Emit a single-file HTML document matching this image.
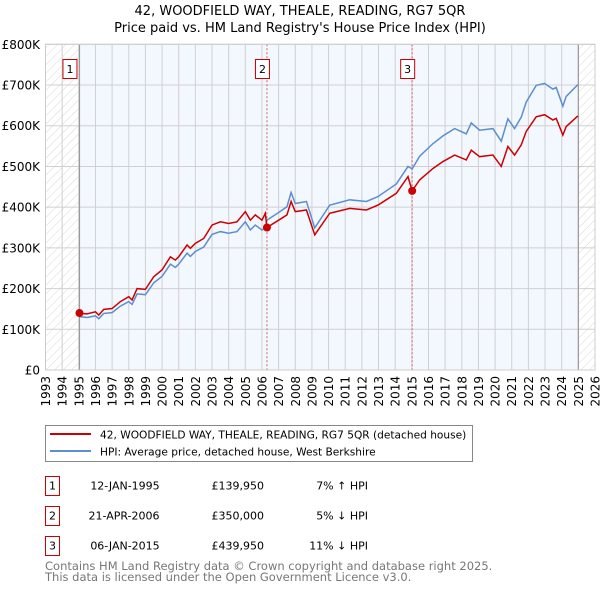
<!DOCTYPE html>
<html><head><meta charset="utf-8"><style>
body{margin:0;background:#fff;}
svg{display:block;font-family:"DejaVu Sans","Liberation Sans",sans-serif;}
</style></head><body>
<svg id="chart" width="600" height="590" viewBox="0 0 600 590" xmlns="http://www.w3.org/2000/svg">
<defs>
<pattern id="hatch" patternUnits="userSpaceOnUse" width="6" height="6" patternTransform="rotate(45)">
<rect width="6" height="6" fill="#fff"/><line x1="0" y1="0" x2="0" y2="6" stroke="#d8d8d8" stroke-width="1"/>
</pattern>
</defs>
<text x="300" y="15" text-anchor="middle" font-size="13" fill="#000">42, WOODFIELD WAY, THEALE, READING, RG7 5QR</text>
<text x="300" y="32" text-anchor="middle" font-size="13" fill="#000">Price paid vs. HM Land Registry's House Price Index (HPI)</text>
<g id="plot"></g>
<g>
<rect x="45.5" y="425.5" width="427" height="36" fill="#fff" stroke="#888"/>
<line x1="50" y1="434" x2="91" y2="434" stroke="#cc0000" stroke-width="2"/>
<text x="100" y="438.5" font-size="10.6">42, WOODFIELD WAY, THEALE, READING, RG7 5QR (detached house)</text>
<line x1="50" y1="451" x2="91" y2="451" stroke="#5b8fd0" stroke-width="2"/>
<text x="100" y="455.5" font-size="10.6">HPI: Average price, detached house, West Berkshire</text>
</g>
<g font-size="11">
<g>
<rect x="45.5" y="476.5" width="14" height="19" fill="#fff" stroke="#cc0000"/><text x="52.5" y="489.5" text-anchor="middle">1</text>
<text x="125" y="489.5" text-anchor="middle">12-JAN-1995</text><text x="264" y="489.5" text-anchor="end">£139,950</text><text x="368" y="489.5" text-anchor="end">7% ↑ HPI</text></g>
<g>
<rect x="45.5" y="506.5" width="14" height="19" fill="#fff" stroke="#cc0000"/><text x="52.5" y="519.5" text-anchor="middle">2</text>
<text x="124" y="519.5" text-anchor="middle">21-APR-2006</text><text x="264" y="519.5" text-anchor="end">£350,000</text><text x="368" y="519.5" text-anchor="end">5% ↓ HPI</text></g>
<g>
<rect x="45.5" y="536.5" width="14" height="19" fill="#fff" stroke="#cc0000"/><text x="52.5" y="549.5" text-anchor="middle">3</text>
<text x="125" y="549.5" text-anchor="middle">06-JAN-2015</text><text x="264" y="549.5" text-anchor="end">£439,950</text><text x="368" y="549.5" text-anchor="end">11% ↓ HPI</text></g>
</g>
<text x="45" y="570" font-size="11.5" fill="#777">Contains HM Land Registry data © Crown copyright and database right 2025.</text>
<text x="45" y="581" font-size="11.5" fill="#777">This data is licensed under the Open Government Licence v3.0.</text>
</svg>
<script>
const years=[1995.04,1995.5,1996.0,1996.2,1996.5,1997.0,1997.5,1998.0,1998.2,1998.5,1999.0,1999.5,2000.0,2000.5,2000.8,2001.0,2001.5,2001.7,2002.0,2002.5,2003.0,2003.5,2004.0,2004.5,2005.0,2005.3,2005.6,2006.0,2006.2,2006.3,2007.0,2007.5,2007.75,2008.0,2008.67,2009.17,2010.07,2011.27,2012.27,2012.97,2014.07,2014.77,2015.02,2015.47,2016.27,2016.87,2017.57,2018.27,2018.57,2019.07,2019.87,2020.37,2020.77,2021.17,2021.57,2021.87,2022.47,2022.97,2023.47,2023.67,2024.07,2024.27,2024.97];
const priceSeries=[139,138,143,135,149,151,168,180,172,200,198,229,246,278,270,278,307,299,311,323,356,364,360,364,389,368,381,368,385,350,368,381,414,389,393,332,385,397,393,405,434,475,440,467,495,512,528,516,540,524,528,500,549,528,553,586,622,627,614,618,577,598,624];
const hpiSeries=[131,129,133,126,139,141,157,168,161,187,185,214,230,260,252,260,287,279,291,302,333,340,336,340,364,344,356,344,348,368,387,401,436,409,414,349,405,418,414,426,457,500,494,525,556,575,593,580,607,589,593,562,617,593,621,658,699,704,690,694,648,672,701];
const saleYears=[1995.04,2006.3,2015.02];
const salePrices=[139.95,350,439.95];
const saleLabels=["1","2","3"];
const yTicks=[0,100,200,300,400,500,600,700,800];
const yTickLabels=["£0","£100K","£200K","£300K","£400K","£500K","£600K","£700K","£800K"];
const xStart=1993,xEnd=2026,dataStart=1995.04,dataEnd=2025.0;

const X0=45.5,X1=595,Y0=370,Y1=44.3;
const xs=t=>X0+(t-xStart)/(xEnd-xStart)*(X1-X0);
const ys=v=>Y0-v/800*(Y0-Y1);
const NS="http://www.w3.org/2000/svg";
const g=document.getElementById('plot');
function mk(tag,attrs,parent){const e=document.createElementNS(NS,tag);for(const k in attrs)e.setAttribute(k,attrs[k]);(parent||g).appendChild(e);return e;}

let r=mk('rect',{x:X0,y:Y1,width:X1-X0,height:Y0-Y1,fill:'#fff'});


r=mk('rect',{x:xs(dataStart),y:Y1,width:xs(dataEnd)-xs(dataStart),height:Y0-Y1,fill:'#f3f7fe'});


r=mk('rect',{x:X0,y:Y1,width:xs(dataStart)-X0,height:Y0-Y1,fill:'url(#hatch)'});


r=mk('rect',{x:xs(dataEnd),y:Y1,width:X1-xs(dataEnd),height:Y0-Y1,fill:'url(#hatch)'});



for(let y=xStart;y<=xEnd;y++){
  const l=mk('line',{x1:xs(y),x2:xs(y),y1:Y1,y2:Y0,stroke:'#d0d0d0','stroke-width':1});
  
  
  const t=mk('text',{x:0,y:0,'font-size':12,'text-anchor':'end',transform:`translate(${xs(y)+4.5},${Y0+6}) rotate(-90)`});
  t.textContent=String(y);
  
  
}
yTicks.forEach((v,i)=>{
  const l=mk('line',{x1:X0,x2:X1,y1:ys(v),y2:ys(v),stroke:'#d0d0d0','stroke-width':1});
  
  
  const t=mk('text',{x:40,y:ys(v)+4.5,'font-size':12,'text-anchor':'end'});
  t.textContent=yTickLabels[i];
  
  
});
let b=mk('line',{x1:xs(dataStart),x2:xs(dataStart),y1:Y1,y2:Y0,stroke:'#999','stroke-width':1.2});


b=mk('line',{x1:xs(dataEnd),x2:xs(dataEnd),y1:Y1,y2:Y0,stroke:'#999','stroke-width':1.2});


saleYears.forEach((s,i)=>{
  if(i>0){
    const l=mk('line',{x1:xs(s),x2:xs(s),y1:Y1,y2:Y0,stroke:'#e06060','stroke-width':1,'stroke-dasharray':'2,2'});
    
    
  }
});
const hp=mk('polyline',{points:years.map((t,i)=>xs(t)+','+ys(hpiSeries[i])).join(' '),fill:'none',stroke:'#5b8fd0','stroke-width':1.5});


const pp=mk('polyline',{points:years.map((t,i)=>xs(t)+','+ys(priceSeries[i])).join(' '),fill:'none',stroke:'#cc0000','stroke-width':1.5});


saleYears.forEach((s,i)=>{
  const c=mk('circle',{cx:xs(s),cy:ys(salePrices[i]),r:4,fill:'#cc0000'});
  
  
  const bx=xs(s)-(i===0?9.5:4.5);
  const rr=mk('rect',{x:bx-7,y:59.5,width:14,height:19,fill:'#fff',stroke:'#cc0000'});
  
  
  const t=mk('text',{x:bx,y:73,'font-size':11,'text-anchor':'middle'});
  t.textContent=saleLabels[i];
  
  
});
const fr=mk('rect',{x:X0,y:Y1,width:X1-X0,height:Y0-Y1,fill:'none',stroke:'#ccc'});


</script>
</body></html>
